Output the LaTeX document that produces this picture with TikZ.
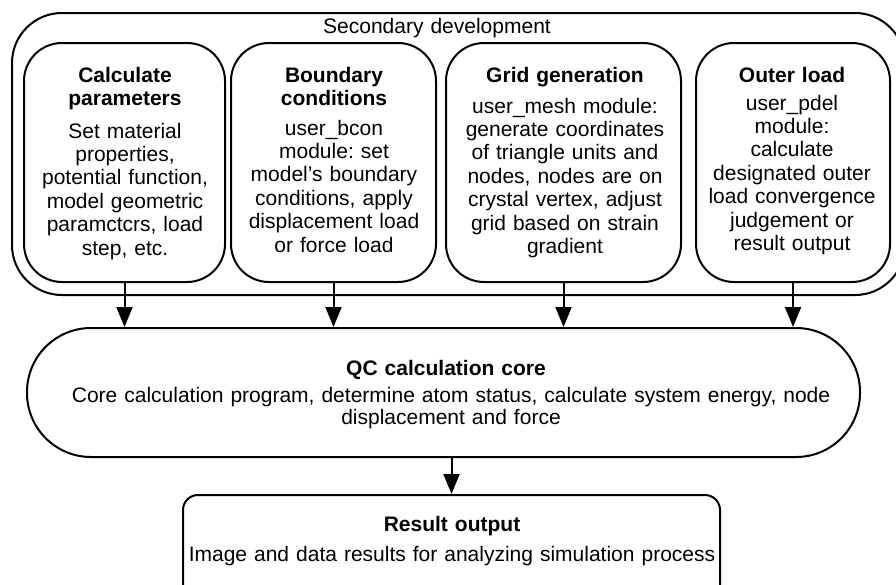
\documentclass[tikz,border=0pt]{standalone}
\usepackage{fontspec}
\setmainfont{Liberation Sans}
\usetikzlibrary{arrows.meta}
\frenchspacing

\begin{document}
\begin{tikzpicture}[x=1pt, y=-1pt, line width=2pt,
  frame/.style={draw, rounded corners=#1, inner sep=0pt},
  bodytext/.style={anchor=base, align=center, inner sep=0pt, text width=#1,
    font=\fontsize{21}{23.4}\selectfont},
  headtext/.style={bodytext=#1, font=\fontsize{21}{23.4}\selectfont\bfseries},
  flow/.style={line width=2pt, -{Triangle[length=20pt,width=16pt]}}
]
\useasboundingbox (0,0) rectangle (896,584);
\clip (0,0) rectangle (896,584);

% secondary development frame
\node[frame=50pt, minimum width=893pt, minimum height=282pt] (outer) at (458.5,154) {};
\node[bodytext=300pt] (outerlbl) at (437,33) {Secondary development};

% four module boxes
\node[frame=38pt, minimum width=201pt, minimum height=239pt] (b1) at (124.5,162.5) {};
\node[frame=38pt, minimum width=205pt, minimum height=239pt] (b2) at (333.5,162.5) {};
\node[frame=38pt, minimum width=235pt, minimum height=239pt] (b3) at (563.5,162.5) {};
\node[frame=38pt, minimum width=194pt, minimum height=239pt] (b4) at (793,162.5) {};

\node[headtext=220pt] (t1) at (125,82) {Calculate\\parameters};
\node[bodytext=220pt] (d1) at (125,138) {Set material\\properties,\\potential function,\\model geometric\\paramctcrs, load\\step, etc.};

\node[headtext=220pt] (t2) at (334,82) {Boundary\\conditions};
\node[bodytext=220pt] (d2) at (334,135) {user\_bcon\\module: set\\model’s boundary\\conditions, apply\\displacement load\\or force load};

\node[headtext=250pt] (t3) at (565,82) {Grid generation};
\node[bodytext=250pt] (d3) at (565,113) {user\_mesh module:\\generate coordinates\\of triangle units and\\nodes, nodes are on\\crystal vertex, adjust\\grid based on strain\\gradient};

\node[headtext=220pt] (t4) at (792,82) {Outer load};
\node[bodytext=220pt] (d4) at (792,110) {user\_pdel\\module:\\calculate\\designated outer\\load convergence\\judgement or\\result output};

% calculation core
\node[frame=64pt, minimum width=833pt, minimum height=129pt] (core) at (443.5,392.5) {};
\node[headtext=500pt] (coret) at (446,375) {QC calculation core};
\node[bodytext=820pt, font=\fontsize{21}{22}\selectfont] (cored) at (451,402)
  {Core calculation program, determine atom status, calculate system energy, node\\displacement and force};

% result output
\node[frame=15pt, minimum width=537pt, minimum height=125pt] (res) at (451.5,557.5) {};
\node[headtext=500pt] (rest) at (452,531) {Result output};
\node[bodytext=560pt] (resd) at (452,561) {Image and data results for analyzing simulation process};

% connectors
\foreach \b in {b1,b2,b3,b4}
  \draw[flow] (\b.south) -- (\b.south |- core.north);
\draw[flow] (core.south -| res.north) -- (res.north);
\end{tikzpicture}
\end{document}
